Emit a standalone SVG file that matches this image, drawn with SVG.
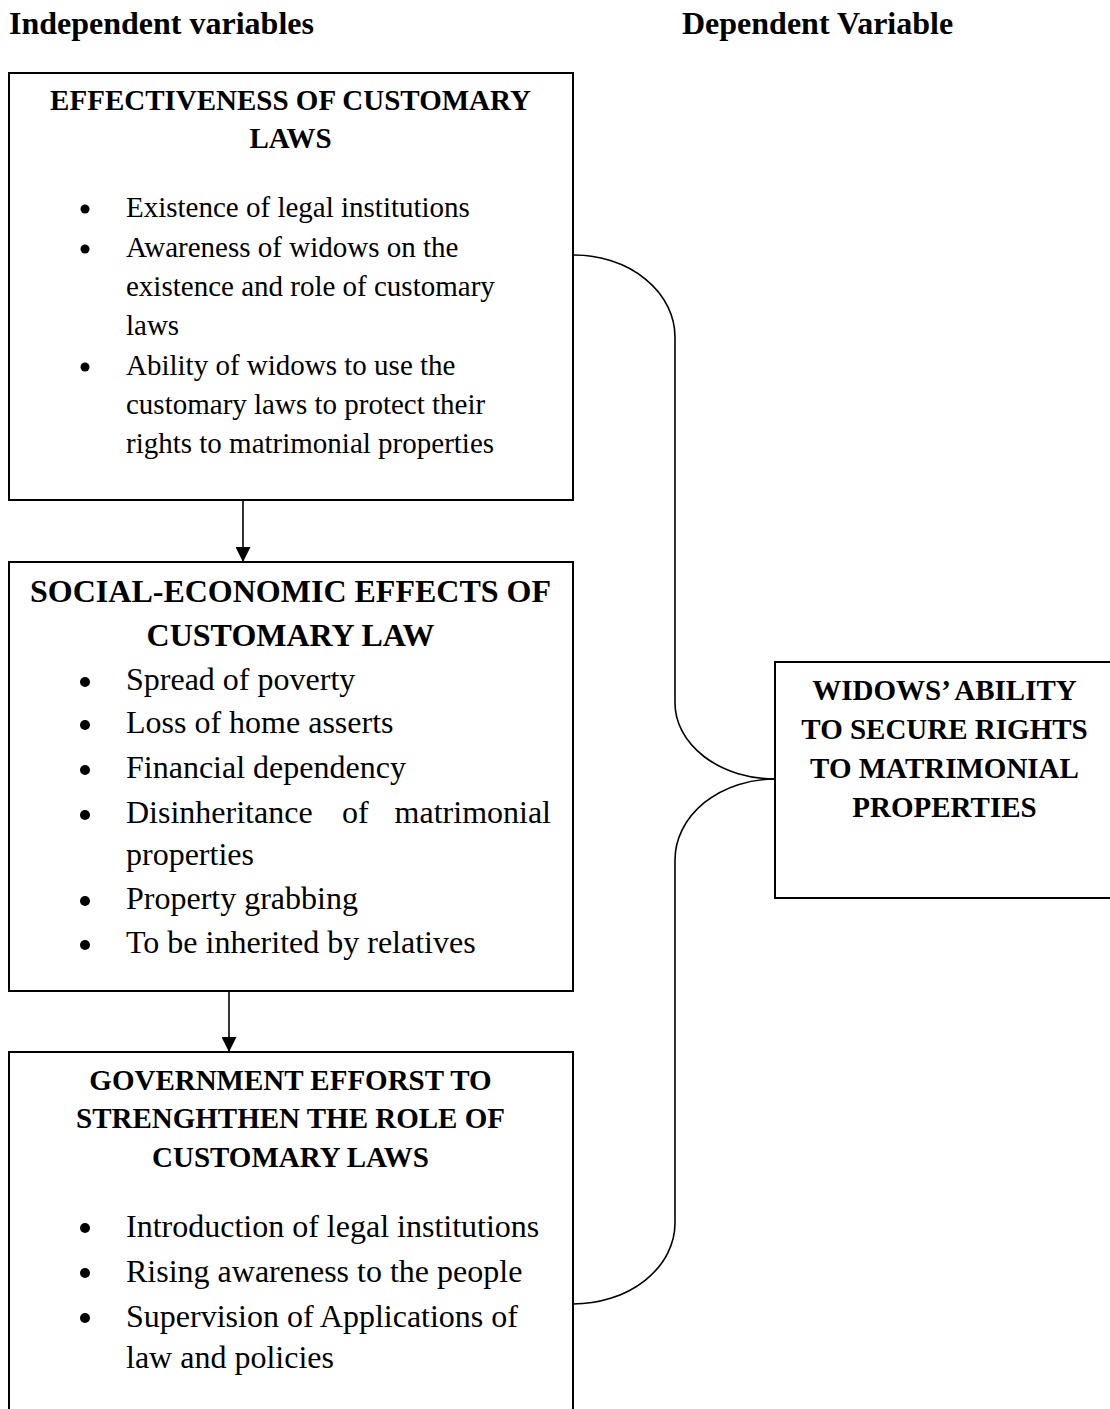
<svg xmlns="http://www.w3.org/2000/svg" width="1110" height="1409" viewBox="0 0 1110 1409">
<style>
text{font-family:"Liberation Serif","Times New Roman",serif;fill:#000}
.hd{font-size:32px;font-weight:bold}
.t29{font-size:29px;font-weight:bold;text-anchor:middle}
.t32{font-size:32px;font-weight:bold;text-anchor:middle}
.b29{font-size:29px}
.b32{font-size:32px}
.box{fill:#fff;stroke:#000;stroke-width:2}
.con{fill:none;stroke:#000;stroke-width:1.6}
.dot{fill:#000}
</style>
<defs>
<marker id="arr" viewBox="0 0 10 10" refX="10" refY="5" markerWidth="15" markerHeight="15" markerUnits="userSpaceOnUse" orient="auto">
<path d="M0,0 L10,5 L0,10 z" fill="#000"/>
</marker>
</defs>
<rect width="1110" height="1409" fill="#fff"/>
<text class="hd" x="9" y="34">Independent variables</text>
<text class="hd" x="682" y="34">Dependent Variable</text>

<g id="connectors">
<line class="con" x1="243" y1="501" x2="243" y2="562" stroke-width="2" marker-end="url(#arr)"/>
<line class="con" x1="229" y1="991" x2="229" y2="1052" stroke-width="2" marker-end="url(#arr)"/>
<path class="con" d="M574,255 A101,82 0 0 1 675,337 V703 A100,76 0 0 0 775,779"/>
<path class="con" d="M775,779 A100,81 0 0 0 675,860 V1223 A102,81 0 0 1 573,1304"/>
</g>

<g id="node-effectiveness">
<rect class="box" x="9" y="73" width="564" height="427"/>
<text class="t29" x="290.5" y="110">EFFECTIVENESS OF CUSTOMARY</text>
<text class="t29" x="290.5" y="148">LAWS</text>
<circle class="dot" cx="85" cy="209" r="4.5"/>
<text class="b29" x="126" y="217">Existence of legal institutions</text>
<circle class="dot" cx="85" cy="249" r="4.5"/>
<text class="b29" x="126" y="257">Awareness of widows on the</text>
<text class="b29" x="126" y="296">existence and role of customary</text>
<text class="b29" x="126" y="335">laws</text>
<circle class="dot" cx="85" cy="367" r="4.5"/>
<text class="b29" x="126" y="375">Ability of widows to use the</text>
<text class="b29" x="126" y="414">customary laws to protect their</text>
<text class="b29" x="126" y="453">rights to matrimonial properties</text>
</g>

<g id="node-social-economic">
<rect class="box" x="9" y="562" width="564" height="429"/>
<text class="t32" x="290.5" y="602">SOCIAL-ECONOMIC EFFECTS OF</text>
<text class="t32" x="290.5" y="646">CUSTOMARY LAW</text>
<circle class="dot" cx="85" cy="682" r="5"/>
<text class="b32" x="126" y="690">Spread of poverty</text>
<circle class="dot" cx="85" cy="725" r="5"/>
<text class="b32" x="126" y="733">Loss of home asserts</text>
<circle class="dot" cx="85" cy="770" r="5"/>
<text class="b32" x="126" y="778">Financial dependency</text>
<circle class="dot" cx="85" cy="815" r="5"/>
<text class="b32" x="126" y="823">Disinheritance</text>
<text class="b32" x="342" y="823">of</text>
<text class="b32" x="551" y="823" text-anchor="end">matrimonial</text>
<text class="b32" x="126" y="865">properties</text>
<circle class="dot" cx="85" cy="901" r="5"/>
<text class="b32" x="126" y="909">Property grabbing</text>
<circle class="dot" cx="85" cy="945" r="5"/>
<text class="b32" x="126" y="953">To be inherited by relatives</text>
</g>

<g id="node-government">
<rect class="box" x="9" y="1052" width="564" height="380"/>
<text class="t29" x="290.5" y="1090">GOVERNMENT EFFORST TO</text>
<text class="t29" x="290.5" y="1128">STRENGHTHEN THE ROLE OF</text>
<text class="t29" x="290.5" y="1167">CUSTOMARY LAWS</text>
<circle class="dot" cx="85" cy="1228" r="5"/>
<text class="b32" x="126" y="1237">Introduction of legal institutions</text>
<circle class="dot" cx="85" cy="1273" r="5"/>
<text class="b32" x="126" y="1282">Rising awareness to the people</text>
<circle class="dot" cx="85" cy="1318" r="5"/>
<text class="b32" x="126" y="1327">Supervision of Applications of</text>
<text class="b32" x="126" y="1368">law and policies</text>
</g>

<g id="node-widows">
<rect class="box" x="775" y="662" width="340" height="236"/>
<text class="t29" x="944.5" y="700">WIDOWS’ ABILITY</text>
<text class="t29" x="944.5" y="739">TO SECURE RIGHTS</text>
<text class="t29" x="944.5" y="778">TO MATRIMONIAL</text>
<text class="t29" x="944.5" y="817">PROPERTIES</text>
</g>
</svg>
